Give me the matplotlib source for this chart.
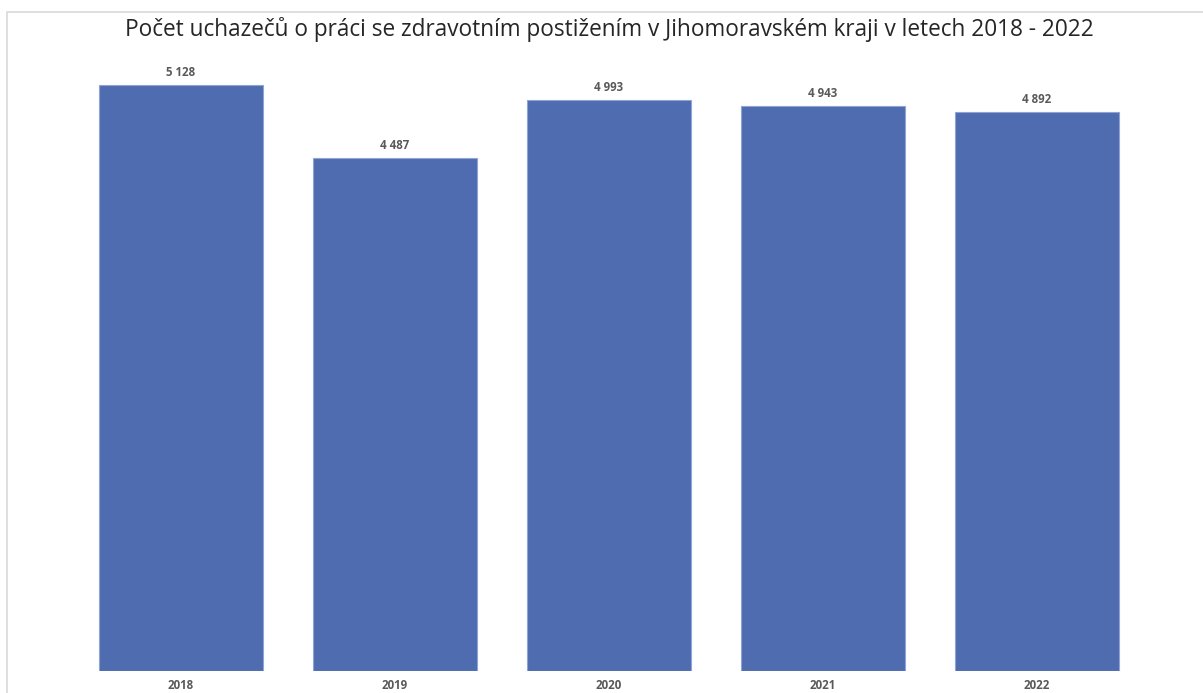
import matplotlib
matplotlib.use("Agg")
import matplotlib.pyplot as plt
from matplotlib.patches import Rectangle

years = ["2018", "2019", "2020", "2021", "2022"]
values = [5128, 4487, 4993, 4943, 4892]
value_labels = ["5 128", "4 487", "4 993", "4 943", "4 892"]
title = "Počet uchazečů o práci se zdravotním postižením v Jihomoravském kraji v letech 2018 - 2022"

W, H = 1203, 693
fig = plt.figure(figsize=(W / 100, H / 100), dpi=100)
fig.patch.set_facecolor("white")

# outer frame (cropped at right/bottom)
fig.patches.append(Rectangle((7 / W, -0.05), 1.2, 1 - 12 / H + 0.05, transform=fig.transFigure,
                             fill=False, edgecolor="#D9D9D9", linewidth=1.2))

left, right, bottom, top = 74, 1144, 671, 60
ax = fig.add_axes([left / W, 1 - bottom / H, (right - left) / W, (bottom - top) / H])
x = range(len(years))
bars = ax.bar(x, values, width=0.766, color="#506CB0", edgecolor="#8FA4D6", linewidth=0.8)
ax.set_xlim(-0.5, len(years) - 0.5)
ax.set_ylim(0, 5346)
for s in ax.spines.values():
    s.set_visible(False)
ax.set_yticks([])
ax.set_xticks(list(x))
ax.set_xticklabels(years, fontsize=8.3, fontweight="bold", color="#595959", family="Open Sans")
ax.tick_params(axis="x", length=0, pad=6)

for b, lab in zip(bars, value_labels):
    ax.annotate(lab, (b.get_x() + b.get_width() / 2, b.get_height()), xytext=(0, 4.5),
                textcoords="offset points", ha="center", va="bottom",
                fontsize=8.3, fontweight="bold", color="#595959", family="Open Sans")

fig.text((left + right) / 2 / W, 1 - 30 / H, title, ha="center", va="center",
         fontsize=16.3, color="#262626", family="Open Sans")

fig.savefig("out.png", dpi=100)
